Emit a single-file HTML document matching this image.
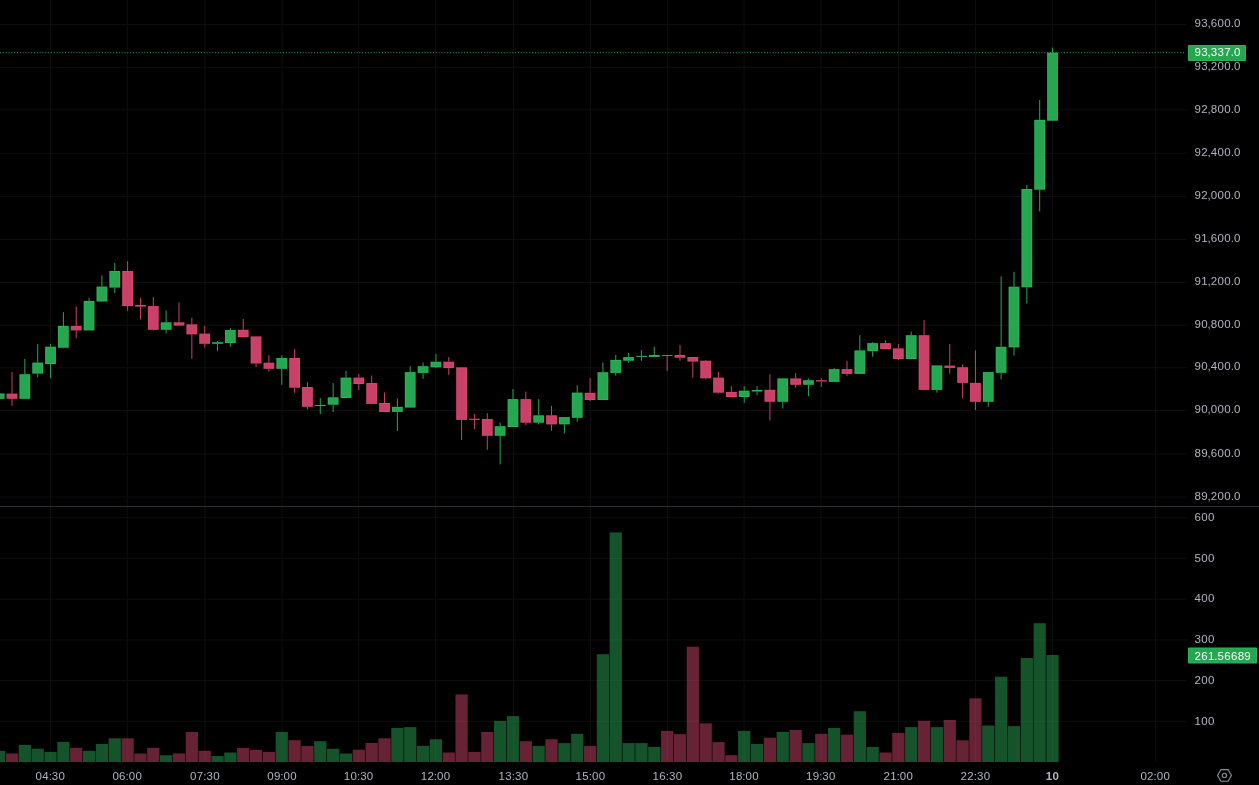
<!DOCTYPE html><html><head><meta charset="utf-8"><style>
html,body{margin:0;padding:0;background:#000;width:1259px;height:785px;overflow:hidden}
svg{display:block;will-change:transform}
text{font-family:"Liberation Sans",sans-serif;font-size:11.5px;letter-spacing:0.31px;fill:#b2b5be}
</style></head><body>
<svg width="1259" height="785" viewBox="0 0 1259 785">
<rect x="0" y="0" width="1259" height="785" fill="#000"/>
<rect x="0" y="23.98" width="1187" height="1" fill="#0e0e0e"/><rect x="0" y="66.80" width="1187" height="1" fill="#0e0e0e"/><rect x="0" y="109.34" width="1187" height="1" fill="#0e0e0e"/><rect x="0" y="152.75" width="1187" height="1" fill="#0e0e0e"/><rect x="0" y="196.00" width="1187" height="1" fill="#0e0e0e"/><rect x="0" y="238.95" width="1187" height="1" fill="#0e0e0e"/><rect x="0" y="281.98" width="1187" height="1" fill="#0e0e0e"/><rect x="0" y="324.70" width="1187" height="1" fill="#0e0e0e"/><rect x="0" y="367.23" width="1187" height="1" fill="#0e0e0e"/><rect x="0" y="410.00" width="1187" height="1" fill="#0e0e0e"/><rect x="0" y="453.49" width="1187" height="1" fill="#0e0e0e"/><rect x="0" y="496.60" width="1187" height="1" fill="#0e0e0e"/><rect x="0" y="517.17" width="1187" height="1" fill="#0e0e0e"/><rect x="0" y="557.91" width="1187" height="1" fill="#0e0e0e"/><rect x="0" y="598.64" width="1187" height="1" fill="#0e0e0e"/><rect x="0" y="639.38" width="1187" height="1" fill="#0e0e0e"/><rect x="0" y="680.11" width="1187" height="1" fill="#0e0e0e"/><rect x="0" y="720.85" width="1187" height="1" fill="#0e0e0e"/><rect x="49.90" y="0" width="1" height="506" fill="#0e0e0e"/><rect x="49.90" y="507" width="1" height="255" fill="#0e0e0e"/><rect x="126.80" y="0" width="1" height="506" fill="#0e0e0e"/><rect x="126.80" y="507" width="1" height="255" fill="#0e0e0e"/><rect x="204.50" y="0" width="1" height="506" fill="#0e0e0e"/><rect x="204.50" y="507" width="1" height="255" fill="#0e0e0e"/><rect x="281.60" y="0" width="1" height="506" fill="#0e0e0e"/><rect x="281.60" y="507" width="1" height="255" fill="#0e0e0e"/><rect x="358.20" y="0" width="1" height="506" fill="#0e0e0e"/><rect x="358.20" y="507" width="1" height="255" fill="#0e0e0e"/><rect x="435.10" y="0" width="1" height="506" fill="#0e0e0e"/><rect x="435.10" y="507" width="1" height="255" fill="#0e0e0e"/><rect x="513.00" y="0" width="1" height="506" fill="#0e0e0e"/><rect x="513.00" y="507" width="1" height="255" fill="#0e0e0e"/><rect x="590.00" y="0" width="1" height="506" fill="#0e0e0e"/><rect x="590.00" y="507" width="1" height="255" fill="#0e0e0e"/><rect x="667.00" y="0" width="1" height="506" fill="#0e0e0e"/><rect x="667.00" y="507" width="1" height="255" fill="#0e0e0e"/><rect x="743.60" y="0" width="1" height="506" fill="#0e0e0e"/><rect x="743.60" y="507" width="1" height="255" fill="#0e0e0e"/><rect x="820.40" y="0" width="1" height="506" fill="#0e0e0e"/><rect x="820.40" y="507" width="1" height="255" fill="#0e0e0e"/><rect x="897.90" y="0" width="1" height="506" fill="#0e0e0e"/><rect x="897.90" y="507" width="1" height="255" fill="#0e0e0e"/><rect x="975.00" y="0" width="1" height="506" fill="#0e0e0e"/><rect x="975.00" y="507" width="1" height="255" fill="#0e0e0e"/><rect x="1052.00" y="0" width="1" height="506" fill="#0e0e0e"/><rect x="1052.00" y="507" width="1" height="255" fill="#0e0e0e"/><rect x="1154.80" y="0" width="1" height="506" fill="#0e0e0e"/><rect x="1154.80" y="507" width="1" height="255" fill="#0e0e0e"/>
<rect x="-6.98" y="750.80" width="12.25" height="11.20" fill="rgba(42,166,84,0.5)"/><rect x="5.87" y="753.50" width="12.25" height="8.50" fill="rgba(208,68,106,0.5)"/><rect x="18.71" y="744.90" width="12.25" height="17.10" fill="rgba(42,166,84,0.5)"/><rect x="31.56" y="748.70" width="12.25" height="13.30" fill="rgba(42,166,84,0.5)"/><rect x="44.41" y="751.90" width="12.25" height="10.10" fill="rgba(42,166,84,0.5)"/><rect x="57.25" y="741.90" width="12.25" height="20.10" fill="rgba(42,166,84,0.5)"/><rect x="70.10" y="747.80" width="12.25" height="14.20" fill="rgba(208,68,106,0.5)"/><rect x="82.94" y="750.80" width="12.25" height="11.20" fill="rgba(42,166,84,0.5)"/><rect x="95.79" y="744.00" width="12.25" height="18.00" fill="rgba(42,166,84,0.5)"/><rect x="108.64" y="738.30" width="12.25" height="23.70" fill="rgba(42,166,84,0.5)"/><rect x="121.48" y="738.30" width="12.25" height="23.70" fill="rgba(208,68,106,0.5)"/><rect x="134.33" y="753.50" width="12.25" height="8.50" fill="rgba(208,68,106,0.5)"/><rect x="147.17" y="747.80" width="12.25" height="14.20" fill="rgba(208,68,106,0.5)"/><rect x="160.02" y="755.30" width="12.25" height="6.70" fill="rgba(42,166,84,0.5)"/><rect x="172.87" y="753.40" width="12.25" height="8.60" fill="rgba(208,68,106,0.5)"/><rect x="185.71" y="731.90" width="12.25" height="30.10" fill="rgba(208,68,106,0.5)"/><rect x="198.56" y="750.80" width="12.25" height="11.20" fill="rgba(208,68,106,0.5)"/><rect x="211.40" y="756.00" width="12.25" height="6.00" fill="rgba(42,166,84,0.5)"/><rect x="224.25" y="752.50" width="12.25" height="9.50" fill="rgba(42,166,84,0.5)"/><rect x="237.10" y="748.00" width="12.25" height="14.00" fill="rgba(208,68,106,0.5)"/><rect x="249.94" y="749.90" width="12.25" height="12.10" fill="rgba(208,68,106,0.5)"/><rect x="262.79" y="751.90" width="12.25" height="10.10" fill="rgba(208,68,106,0.5)"/><rect x="275.63" y="731.90" width="12.25" height="30.10" fill="rgba(42,166,84,0.5)"/><rect x="288.48" y="740.20" width="12.25" height="21.80" fill="rgba(208,68,106,0.5)"/><rect x="301.33" y="745.90" width="12.25" height="16.10" fill="rgba(208,68,106,0.5)"/><rect x="314.17" y="741.20" width="12.25" height="20.80" fill="rgba(42,166,84,0.5)"/><rect x="327.02" y="748.80" width="12.25" height="13.20" fill="rgba(42,166,84,0.5)"/><rect x="339.86" y="753.50" width="12.25" height="8.50" fill="rgba(42,166,84,0.5)"/><rect x="352.71" y="749.70" width="12.25" height="12.30" fill="rgba(208,68,106,0.5)"/><rect x="365.56" y="743.00" width="12.25" height="19.00" fill="rgba(208,68,106,0.5)"/><rect x="378.40" y="738.30" width="12.25" height="23.70" fill="rgba(208,68,106,0.5)"/><rect x="391.25" y="727.90" width="12.25" height="34.10" fill="rgba(42,166,84,0.5)"/><rect x="404.09" y="727.10" width="12.25" height="34.90" fill="rgba(42,166,84,0.5)"/><rect x="416.94" y="745.90" width="12.25" height="16.10" fill="rgba(42,166,84,0.5)"/><rect x="429.79" y="739.30" width="12.25" height="22.70" fill="rgba(42,166,84,0.5)"/><rect x="442.63" y="752.50" width="12.25" height="9.50" fill="rgba(208,68,106,0.5)"/><rect x="455.48" y="694.40" width="12.25" height="67.60" fill="rgba(208,68,106,0.5)"/><rect x="468.32" y="751.90" width="12.25" height="10.10" fill="rgba(208,68,106,0.5)"/><rect x="481.17" y="731.90" width="12.25" height="30.10" fill="rgba(208,68,106,0.5)"/><rect x="494.02" y="720.90" width="12.25" height="41.10" fill="rgba(42,166,84,0.5)"/><rect x="506.86" y="716.10" width="12.25" height="45.90" fill="rgba(42,166,84,0.5)"/><rect x="519.71" y="741.20" width="12.25" height="20.80" fill="rgba(208,68,106,0.5)"/><rect x="532.55" y="745.90" width="12.25" height="16.10" fill="rgba(42,166,84,0.5)"/><rect x="545.40" y="739.30" width="12.25" height="22.70" fill="rgba(208,68,106,0.5)"/><rect x="558.25" y="743.10" width="12.25" height="18.90" fill="rgba(42,166,84,0.5)"/><rect x="571.09" y="733.80" width="12.25" height="28.20" fill="rgba(42,166,84,0.5)"/><rect x="583.94" y="745.90" width="12.25" height="16.10" fill="rgba(208,68,106,0.5)"/><rect x="596.78" y="654.20" width="12.25" height="107.80" fill="rgba(42,166,84,0.5)"/><rect x="609.63" y="532.40" width="12.25" height="229.60" fill="rgba(42,166,84,0.5)"/><rect x="622.48" y="743.10" width="12.25" height="18.90" fill="rgba(42,166,84,0.5)"/><rect x="635.32" y="743.10" width="12.25" height="18.90" fill="rgba(42,166,84,0.5)"/><rect x="648.17" y="746.90" width="12.25" height="15.10" fill="rgba(42,166,84,0.5)"/><rect x="661.01" y="730.90" width="12.25" height="31.10" fill="rgba(208,68,106,0.5)"/><rect x="673.86" y="734.10" width="12.25" height="27.90" fill="rgba(208,68,106,0.5)"/><rect x="686.71" y="646.70" width="12.25" height="115.30" fill="rgba(208,68,106,0.5)"/><rect x="699.55" y="723.40" width="12.25" height="38.60" fill="rgba(208,68,106,0.5)"/><rect x="712.40" y="742.10" width="12.25" height="19.90" fill="rgba(208,68,106,0.5)"/><rect x="725.24" y="755.20" width="12.25" height="6.80" fill="rgba(208,68,106,0.5)"/><rect x="738.09" y="730.90" width="12.25" height="31.10" fill="rgba(42,166,84,0.5)"/><rect x="750.94" y="744.00" width="12.25" height="18.00" fill="rgba(42,166,84,0.5)"/><rect x="763.78" y="737.70" width="12.25" height="24.30" fill="rgba(208,68,106,0.5)"/><rect x="776.63" y="731.90" width="12.25" height="30.10" fill="rgba(42,166,84,0.5)"/><rect x="789.47" y="730.00" width="12.25" height="32.00" fill="rgba(208,68,106,0.5)"/><rect x="802.32" y="743.10" width="12.25" height="18.90" fill="rgba(42,166,84,0.5)"/><rect x="815.17" y="733.80" width="12.25" height="28.20" fill="rgba(208,68,106,0.5)"/><rect x="828.01" y="727.90" width="12.25" height="34.10" fill="rgba(42,166,84,0.5)"/><rect x="840.86" y="734.70" width="12.25" height="27.30" fill="rgba(208,68,106,0.5)"/><rect x="853.70" y="711.20" width="12.25" height="50.80" fill="rgba(42,166,84,0.5)"/><rect x="866.55" y="746.90" width="12.25" height="15.10" fill="rgba(42,166,84,0.5)"/><rect x="879.40" y="752.50" width="12.25" height="9.50" fill="rgba(208,68,106,0.5)"/><rect x="892.24" y="733.00" width="12.25" height="29.00" fill="rgba(208,68,106,0.5)"/><rect x="905.09" y="727.10" width="12.25" height="34.90" fill="rgba(42,166,84,0.5)"/><rect x="917.93" y="720.80" width="12.25" height="41.20" fill="rgba(208,68,106,0.5)"/><rect x="930.78" y="727.10" width="12.25" height="34.90" fill="rgba(42,166,84,0.5)"/><rect x="943.63" y="720.00" width="12.25" height="42.00" fill="rgba(208,68,106,0.5)"/><rect x="956.47" y="740.30" width="12.25" height="21.70" fill="rgba(208,68,106,0.5)"/><rect x="969.32" y="698.30" width="12.25" height="63.70" fill="rgba(208,68,106,0.5)"/><rect x="982.16" y="725.50" width="12.25" height="36.50" fill="rgba(42,166,84,0.5)"/><rect x="995.01" y="676.70" width="12.25" height="85.30" fill="rgba(42,166,84,0.5)"/><rect x="1007.86" y="726.10" width="12.25" height="35.90" fill="rgba(42,166,84,0.5)"/><rect x="1020.70" y="658.00" width="12.25" height="104.00" fill="rgba(42,166,84,0.5)"/><rect x="1033.55" y="623.20" width="12.25" height="138.80" fill="rgba(42,166,84,0.5)"/><rect x="1046.39" y="655.00" width="12.25" height="107.00" fill="rgba(42,166,84,0.5)"/>
<line x1="0" y1="52.7" x2="1186" y2="52.7" stroke="#26a650" stroke-width="1" stroke-dasharray="1 1.83"/>
<rect x="-6.26" y="393.40" width="10.80" height="5.50" fill="#2ab457"/><rect x="-5.26" y="394.40" width="8.80" height="3.50" fill="#26a650"/><rect x="11.49" y="372.10" width="1" height="21.50" fill="#c94068"/><rect x="11.49" y="398.80" width="1" height="7.00" fill="#c94068"/><rect x="6.59" y="393.60" width="10.80" height="5.20" fill="#d8466f"/><rect x="7.59" y="394.60" width="8.80" height="3.20" fill="#c94068"/><rect x="24.34" y="358.90" width="1" height="15.30" fill="#26a650"/><rect x="19.44" y="374.20" width="10.80" height="24.60" fill="#2ab457"/><rect x="20.44" y="375.20" width="8.80" height="22.60" fill="#26a650"/><rect x="37.18" y="344.10" width="1" height="18.50" fill="#26a650"/><rect x="37.18" y="373.60" width="1" height="3.70" fill="#26a650"/><rect x="32.28" y="362.60" width="10.80" height="11.00" fill="#2ab457"/><rect x="33.28" y="363.60" width="8.80" height="9.00" fill="#26a650"/><rect x="50.03" y="344.10" width="1" height="2.60" fill="#26a650"/><rect x="50.03" y="364.00" width="1" height="14.30" fill="#26a650"/><rect x="45.13" y="346.70" width="10.80" height="17.30" fill="#2ab457"/><rect x="46.13" y="347.70" width="8.80" height="15.30" fill="#26a650"/><rect x="62.88" y="312.10" width="1" height="13.80" fill="#26a650"/><rect x="62.88" y="347.70" width="1" height="0.60" fill="#26a650"/><rect x="57.98" y="325.90" width="10.80" height="21.80" fill="#2ab457"/><rect x="58.98" y="326.90" width="8.80" height="19.80" fill="#26a650"/><rect x="75.72" y="306.40" width="1" height="19.50" fill="#c94068"/><rect x="75.72" y="330.40" width="1" height="7.70" fill="#c94068"/><rect x="70.82" y="325.90" width="10.80" height="4.50" fill="#d8466f"/><rect x="71.82" y="326.90" width="8.80" height="2.50" fill="#c94068"/><rect x="88.57" y="297.80" width="1" height="3.10" fill="#26a650"/><rect x="83.67" y="300.90" width="10.80" height="29.50" fill="#2ab457"/><rect x="84.67" y="301.90" width="8.80" height="27.50" fill="#26a650"/><rect x="101.41" y="275.40" width="1" height="11.20" fill="#26a650"/><rect x="96.51" y="286.60" width="10.80" height="14.90" fill="#2ab457"/><rect x="97.51" y="287.60" width="8.80" height="12.90" fill="#26a650"/><rect x="114.26" y="263.00" width="1" height="8.00" fill="#26a650"/><rect x="114.26" y="287.60" width="1" height="5.40" fill="#26a650"/><rect x="109.36" y="271.00" width="10.80" height="16.60" fill="#2ab457"/><rect x="110.36" y="272.00" width="8.80" height="14.60" fill="#26a650"/><rect x="127.11" y="261.20" width="1" height="9.80" fill="#c94068"/><rect x="127.11" y="306.10" width="1" height="4.80" fill="#c94068"/><rect x="122.20" y="271.00" width="10.80" height="35.10" fill="#d8466f"/><rect x="123.20" y="272.00" width="8.80" height="33.10" fill="#c94068"/><rect x="139.95" y="298.00" width="1" height="6.90" fill="#c94068"/><rect x="139.95" y="306.60" width="1" height="12.90" fill="#c94068"/><rect x="135.05" y="304.90" width="10.80" height="1.70" fill="#d8466f"/><rect x="152.80" y="297.00" width="1" height="9.10" fill="#c94068"/><rect x="152.80" y="329.80" width="1" height="0.80" fill="#c94068"/><rect x="147.90" y="306.10" width="10.80" height="23.70" fill="#d8466f"/><rect x="148.90" y="307.10" width="8.80" height="21.70" fill="#c94068"/><rect x="165.64" y="310.20" width="1" height="12.10" fill="#26a650"/><rect x="165.64" y="329.80" width="1" height="3.60" fill="#26a650"/><rect x="160.74" y="322.30" width="10.80" height="7.50" fill="#2ab457"/><rect x="161.74" y="323.30" width="8.80" height="5.50" fill="#26a650"/><rect x="178.49" y="302.40" width="1" height="19.90" fill="#c94068"/><rect x="173.59" y="322.30" width="10.80" height="3.30" fill="#d8466f"/><rect x="174.59" y="323.30" width="8.80" height="1.30" fill="#c94068"/><rect x="191.34" y="317.70" width="1" height="6.60" fill="#c94068"/><rect x="191.34" y="334.40" width="1" height="24.40" fill="#c94068"/><rect x="186.44" y="324.30" width="10.80" height="10.10" fill="#d8466f"/><rect x="187.44" y="325.30" width="8.80" height="8.10" fill="#c94068"/><rect x="204.18" y="325.60" width="1" height="8.00" fill="#c94068"/><rect x="204.18" y="343.80" width="1" height="3.90" fill="#c94068"/><rect x="199.28" y="333.60" width="10.80" height="10.20" fill="#d8466f"/><rect x="200.28" y="334.60" width="8.80" height="8.20" fill="#c94068"/><rect x="217.03" y="341.00" width="1" height="1.20" fill="#26a650"/><rect x="217.03" y="343.80" width="1" height="7.50" fill="#26a650"/><rect x="212.13" y="342.20" width="10.80" height="1.60" fill="#2ab457"/><rect x="229.87" y="328.10" width="1" height="2.00" fill="#26a650"/><rect x="229.87" y="343.00" width="1" height="3.70" fill="#26a650"/><rect x="224.97" y="330.10" width="10.80" height="12.90" fill="#2ab457"/><rect x="225.97" y="331.10" width="8.80" height="10.90" fill="#26a650"/><rect x="242.72" y="319.00" width="1" height="10.80" fill="#c94068"/><rect x="237.82" y="329.80" width="10.80" height="7.40" fill="#d8466f"/><rect x="238.82" y="330.80" width="8.80" height="5.40" fill="#c94068"/><rect x="255.56" y="363.50" width="1" height="3.50" fill="#c94068"/><rect x="250.66" y="336.40" width="10.80" height="27.10" fill="#d8466f"/><rect x="251.66" y="337.40" width="8.80" height="25.10" fill="#c94068"/><rect x="268.41" y="355.20" width="1" height="7.50" fill="#c94068"/><rect x="268.41" y="368.80" width="1" height="3.00" fill="#c94068"/><rect x="263.51" y="362.70" width="10.80" height="6.10" fill="#d8466f"/><rect x="264.51" y="363.70" width="8.80" height="4.10" fill="#c94068"/><rect x="281.26" y="355.20" width="1" height="2.80" fill="#26a650"/><rect x="281.26" y="368.80" width="1" height="16.10" fill="#26a650"/><rect x="276.36" y="358.00" width="10.80" height="10.80" fill="#2ab457"/><rect x="277.36" y="359.00" width="8.80" height="8.80" fill="#26a650"/><rect x="294.10" y="349.30" width="1" height="8.70" fill="#c94068"/><rect x="294.10" y="387.70" width="1" height="5.10" fill="#c94068"/><rect x="289.20" y="358.00" width="10.80" height="29.70" fill="#d8466f"/><rect x="290.20" y="359.00" width="8.80" height="27.70" fill="#c94068"/><rect x="306.95" y="382.10" width="1" height="4.90" fill="#c94068"/><rect x="306.95" y="406.80" width="1" height="2.80" fill="#c94068"/><rect x="302.05" y="387.00" width="10.80" height="19.80" fill="#d8466f"/><rect x="303.05" y="388.00" width="8.80" height="17.80" fill="#c94068"/><rect x="319.79" y="398.20" width="1" height="6.80" fill="#26a650"/><rect x="319.79" y="406.00" width="1" height="8.10" fill="#26a650"/><rect x="314.89" y="405.00" width="10.80" height="1.00" fill="#2ab457"/><rect x="332.64" y="383.00" width="1" height="14.30" fill="#26a650"/><rect x="332.64" y="404.70" width="1" height="7.30" fill="#26a650"/><rect x="327.74" y="397.30" width="10.80" height="7.40" fill="#2ab457"/><rect x="328.74" y="398.30" width="8.80" height="5.40" fill="#26a650"/><rect x="345.49" y="370.90" width="1" height="6.70" fill="#26a650"/><rect x="340.59" y="377.60" width="10.80" height="20.40" fill="#2ab457"/><rect x="341.59" y="378.60" width="8.80" height="18.40" fill="#26a650"/><rect x="358.33" y="373.90" width="1" height="3.70" fill="#c94068"/><rect x="358.33" y="384.00" width="1" height="6.00" fill="#c94068"/><rect x="353.43" y="377.60" width="10.80" height="6.40" fill="#d8466f"/><rect x="354.43" y="378.60" width="8.80" height="4.40" fill="#c94068"/><rect x="371.18" y="375.50" width="1" height="7.50" fill="#c94068"/><rect x="366.28" y="383.00" width="10.80" height="20.90" fill="#d8466f"/><rect x="367.28" y="384.00" width="8.80" height="18.90" fill="#c94068"/><rect x="384.02" y="392.40" width="1" height="10.60" fill="#c94068"/><rect x="379.12" y="403.00" width="10.80" height="9.00" fill="#d8466f"/><rect x="380.12" y="404.00" width="8.80" height="7.00" fill="#c94068"/><rect x="396.87" y="398.40" width="1" height="8.40" fill="#26a650"/><rect x="396.87" y="411.90" width="1" height="19.10" fill="#26a650"/><rect x="391.97" y="406.80" width="10.80" height="5.10" fill="#2ab457"/><rect x="392.97" y="407.80" width="8.80" height="3.10" fill="#26a650"/><rect x="409.72" y="366.20" width="1" height="5.90" fill="#26a650"/><rect x="404.82" y="372.10" width="10.80" height="35.50" fill="#2ab457"/><rect x="405.82" y="373.10" width="8.80" height="33.50" fill="#26a650"/><rect x="422.56" y="362.50" width="1" height="3.70" fill="#26a650"/><rect x="422.56" y="372.90" width="1" height="5.90" fill="#26a650"/><rect x="417.66" y="366.20" width="10.80" height="6.70" fill="#2ab457"/><rect x="418.66" y="367.20" width="8.80" height="4.70" fill="#26a650"/><rect x="435.41" y="354.10" width="1" height="7.60" fill="#26a650"/><rect x="435.41" y="367.30" width="1" height="0.80" fill="#26a650"/><rect x="430.51" y="361.70" width="10.80" height="5.60" fill="#2ab457"/><rect x="431.51" y="362.70" width="8.80" height="3.60" fill="#26a650"/><rect x="448.25" y="357.00" width="1" height="4.70" fill="#c94068"/><rect x="448.25" y="368.10" width="1" height="6.80" fill="#c94068"/><rect x="443.36" y="361.70" width="10.80" height="6.40" fill="#d8466f"/><rect x="444.36" y="362.70" width="8.80" height="4.40" fill="#c94068"/><rect x="461.10" y="419.90" width="1" height="20.10" fill="#c94068"/><rect x="456.20" y="367.30" width="10.80" height="52.60" fill="#d8466f"/><rect x="457.20" y="368.30" width="8.80" height="50.60" fill="#c94068"/><rect x="473.95" y="414.00" width="1" height="4.70" fill="#c94068"/><rect x="473.95" y="419.90" width="1" height="9.00" fill="#c94068"/><rect x="469.05" y="418.70" width="10.80" height="1.20" fill="#d8466f"/><rect x="486.79" y="413.20" width="1" height="5.80" fill="#c94068"/><rect x="486.79" y="435.80" width="1" height="14.00" fill="#c94068"/><rect x="481.89" y="419.00" width="10.80" height="16.80" fill="#d8466f"/><rect x="482.89" y="420.00" width="8.80" height="14.80" fill="#c94068"/><rect x="499.64" y="422.60" width="1" height="3.60" fill="#26a650"/><rect x="499.64" y="435.80" width="1" height="28.60" fill="#26a650"/><rect x="494.74" y="426.20" width="10.80" height="9.60" fill="#2ab457"/><rect x="495.74" y="427.20" width="8.80" height="7.60" fill="#26a650"/><rect x="512.49" y="389.00" width="1" height="10.10" fill="#26a650"/><rect x="507.59" y="399.10" width="10.80" height="27.90" fill="#2ab457"/><rect x="508.59" y="400.10" width="8.80" height="25.90" fill="#26a650"/><rect x="525.33" y="391.60" width="1" height="7.50" fill="#c94068"/><rect x="525.33" y="422.70" width="1" height="2.40" fill="#c94068"/><rect x="520.43" y="399.10" width="10.80" height="23.60" fill="#d8466f"/><rect x="521.43" y="400.10" width="8.80" height="21.60" fill="#c94068"/><rect x="538.18" y="399.10" width="1" height="16.20" fill="#26a650"/><rect x="538.18" y="422.70" width="1" height="1.80" fill="#26a650"/><rect x="533.28" y="415.30" width="10.80" height="7.40" fill="#2ab457"/><rect x="534.28" y="416.30" width="8.80" height="5.40" fill="#26a650"/><rect x="551.02" y="405.90" width="1" height="9.40" fill="#c94068"/><rect x="551.02" y="424.40" width="1" height="6.40" fill="#c94068"/><rect x="546.12" y="415.30" width="10.80" height="9.10" fill="#d8466f"/><rect x="547.12" y="416.30" width="8.80" height="7.10" fill="#c94068"/><rect x="563.87" y="424.40" width="1" height="9.20" fill="#26a650"/><rect x="558.97" y="417.10" width="10.80" height="7.30" fill="#2ab457"/><rect x="559.97" y="418.10" width="8.80" height="5.30" fill="#26a650"/><rect x="576.72" y="385.10" width="1" height="7.50" fill="#26a650"/><rect x="576.72" y="417.80" width="1" height="3.80" fill="#26a650"/><rect x="571.82" y="392.60" width="10.80" height="25.20" fill="#2ab457"/><rect x="572.82" y="393.60" width="8.80" height="23.20" fill="#26a650"/><rect x="589.56" y="378.10" width="1" height="14.70" fill="#c94068"/><rect x="589.56" y="400.00" width="1" height="1.00" fill="#c94068"/><rect x="584.66" y="392.80" width="10.80" height="7.20" fill="#d8466f"/><rect x="585.66" y="393.80" width="8.80" height="5.20" fill="#c94068"/><rect x="602.41" y="362.40" width="1" height="9.80" fill="#26a650"/><rect x="597.51" y="372.20" width="10.80" height="27.80" fill="#2ab457"/><rect x="598.51" y="373.20" width="8.80" height="25.80" fill="#26a650"/><rect x="615.25" y="355.00" width="1" height="4.90" fill="#26a650"/><rect x="615.25" y="372.90" width="1" height="2.80" fill="#26a650"/><rect x="610.35" y="359.90" width="10.80" height="13.00" fill="#2ab457"/><rect x="611.35" y="360.90" width="8.80" height="11.00" fill="#26a650"/><rect x="628.10" y="353.00" width="1" height="4.10" fill="#26a650"/><rect x="628.10" y="360.70" width="1" height="2.00" fill="#26a650"/><rect x="623.20" y="357.10" width="10.80" height="3.60" fill="#2ab457"/><rect x="624.20" y="358.10" width="8.80" height="1.60" fill="#26a650"/><rect x="640.94" y="350.10" width="1" height="5.80" fill="#26a650"/><rect x="640.94" y="356.90" width="1" height="3.80" fill="#26a650"/><rect x="636.04" y="355.90" width="10.80" height="1.00" fill="#2ab457"/><rect x="653.79" y="346.70" width="1" height="8.30" fill="#26a650"/><rect x="648.89" y="355.00" width="10.80" height="1.90" fill="#2ab457"/><rect x="666.64" y="355.90" width="1" height="15.00" fill="#c94068"/><rect x="661.74" y="355.00" width="10.80" height="1.00" fill="#d8466f"/><rect x="679.48" y="344.90" width="1" height="10.10" fill="#c94068"/><rect x="679.48" y="357.70" width="1" height="3.00" fill="#c94068"/><rect x="674.58" y="355.00" width="10.80" height="2.70" fill="#d8466f"/><rect x="675.58" y="356.00" width="8.80" height="0.70" fill="#c94068"/><rect x="692.33" y="361.60" width="1" height="16.10" fill="#c94068"/><rect x="687.43" y="357.00" width="10.80" height="4.60" fill="#d8466f"/><rect x="688.43" y="358.00" width="8.80" height="2.60" fill="#c94068"/><rect x="705.17" y="360.00" width="1" height="0.70" fill="#c94068"/><rect x="705.17" y="378.30" width="1" height="1.20" fill="#c94068"/><rect x="700.27" y="360.70" width="10.80" height="17.60" fill="#d8466f"/><rect x="701.27" y="361.70" width="8.80" height="15.60" fill="#c94068"/><rect x="718.02" y="372.10" width="1" height="5.50" fill="#c94068"/><rect x="718.02" y="392.70" width="1" height="1.00" fill="#c94068"/><rect x="713.12" y="377.60" width="10.80" height="15.10" fill="#d8466f"/><rect x="714.12" y="378.60" width="8.80" height="13.10" fill="#c94068"/><rect x="730.87" y="386.10" width="1" height="5.80" fill="#c94068"/><rect x="725.97" y="391.90" width="10.80" height="5.10" fill="#d8466f"/><rect x="726.97" y="392.90" width="8.80" height="3.10" fill="#c94068"/><rect x="743.71" y="386.10" width="1" height="4.60" fill="#26a650"/><rect x="743.71" y="397.00" width="1" height="5.80" fill="#26a650"/><rect x="738.81" y="390.70" width="10.80" height="6.30" fill="#2ab457"/><rect x="739.81" y="391.70" width="8.80" height="4.30" fill="#26a650"/><rect x="756.56" y="386.10" width="1" height="3.90" fill="#26a650"/><rect x="756.56" y="391.50" width="1" height="3.60" fill="#26a650"/><rect x="751.66" y="390.00" width="10.80" height="1.50" fill="#2ab457"/><rect x="769.40" y="374.20" width="1" height="15.60" fill="#c94068"/><rect x="769.40" y="401.80" width="1" height="18.70" fill="#c94068"/><rect x="764.50" y="389.80" width="10.80" height="12.00" fill="#d8466f"/><rect x="765.50" y="390.80" width="8.80" height="10.00" fill="#c94068"/><rect x="782.25" y="401.80" width="1" height="6.70" fill="#26a650"/><rect x="777.35" y="378.40" width="10.80" height="23.40" fill="#2ab457"/><rect x="778.35" y="379.40" width="8.80" height="21.40" fill="#26a650"/><rect x="795.10" y="373.10" width="1" height="5.30" fill="#c94068"/><rect x="795.10" y="384.80" width="1" height="3.10" fill="#c94068"/><rect x="790.20" y="378.40" width="10.80" height="6.40" fill="#d8466f"/><rect x="791.20" y="379.40" width="8.80" height="4.40" fill="#c94068"/><rect x="807.94" y="378.40" width="1" height="1.80" fill="#26a650"/><rect x="807.94" y="384.80" width="1" height="11.40" fill="#26a650"/><rect x="803.04" y="380.20" width="10.80" height="4.60" fill="#2ab457"/><rect x="804.04" y="381.20" width="8.80" height="2.60" fill="#26a650"/><rect x="820.79" y="378.40" width="1" height="1.80" fill="#c94068"/><rect x="820.79" y="381.50" width="1" height="5.40" fill="#c94068"/><rect x="815.89" y="380.20" width="10.80" height="1.30" fill="#d8466f"/><rect x="833.63" y="368.10" width="1" height="1.00" fill="#26a650"/><rect x="828.74" y="369.10" width="10.80" height="12.80" fill="#2ab457"/><rect x="829.74" y="370.10" width="8.80" height="10.80" fill="#26a650"/><rect x="846.48" y="360.80" width="1" height="8.30" fill="#c94068"/><rect x="846.48" y="373.90" width="1" height="2.00" fill="#c94068"/><rect x="841.58" y="369.10" width="10.80" height="4.80" fill="#d8466f"/><rect x="842.58" y="370.10" width="8.80" height="2.80" fill="#c94068"/><rect x="859.33" y="335.10" width="1" height="15.30" fill="#26a650"/><rect x="854.43" y="350.40" width="10.80" height="23.50" fill="#2ab457"/><rect x="855.43" y="351.40" width="8.80" height="21.50" fill="#26a650"/><rect x="872.17" y="342.10" width="1" height="1.00" fill="#26a650"/><rect x="872.17" y="351.20" width="1" height="5.60" fill="#26a650"/><rect x="867.27" y="343.10" width="10.80" height="8.10" fill="#2ab457"/><rect x="868.27" y="344.10" width="8.80" height="6.10" fill="#26a650"/><rect x="885.02" y="340.10" width="1" height="3.00" fill="#c94068"/><rect x="880.12" y="343.10" width="10.80" height="6.00" fill="#d8466f"/><rect x="881.12" y="344.10" width="8.80" height="4.00" fill="#c94068"/><rect x="897.87" y="344.00" width="1" height="4.40" fill="#c94068"/><rect x="897.87" y="359.00" width="1" height="0.80" fill="#c94068"/><rect x="892.97" y="348.40" width="10.80" height="10.60" fill="#d8466f"/><rect x="893.97" y="349.40" width="8.80" height="8.60" fill="#c94068"/><rect x="910.71" y="331.70" width="1" height="3.50" fill="#26a650"/><rect x="905.81" y="335.20" width="10.80" height="23.80" fill="#2ab457"/><rect x="906.81" y="336.20" width="8.80" height="21.80" fill="#26a650"/><rect x="923.56" y="320.10" width="1" height="15.10" fill="#c94068"/><rect x="918.66" y="335.20" width="10.80" height="54.70" fill="#d8466f"/><rect x="919.66" y="336.20" width="8.80" height="52.70" fill="#c94068"/><rect x="936.40" y="389.90" width="1" height="2.80" fill="#26a650"/><rect x="931.50" y="365.40" width="10.80" height="24.50" fill="#2ab457"/><rect x="932.50" y="366.40" width="8.80" height="22.50" fill="#26a650"/><rect x="949.25" y="343.90" width="1" height="21.70" fill="#c94068"/><rect x="949.25" y="367.90" width="1" height="5.90" fill="#c94068"/><rect x="944.35" y="365.60" width="10.80" height="2.30" fill="#d8466f"/><rect x="945.35" y="366.60" width="8.80" height="0.30" fill="#c94068"/><rect x="962.10" y="364.40" width="1" height="2.80" fill="#c94068"/><rect x="962.10" y="382.90" width="1" height="15.40" fill="#c94068"/><rect x="957.20" y="367.20" width="10.80" height="15.70" fill="#d8466f"/><rect x="958.20" y="368.20" width="8.80" height="13.70" fill="#c94068"/><rect x="974.94" y="350.40" width="1" height="32.50" fill="#c94068"/><rect x="974.94" y="401.80" width="1" height="8.40" fill="#c94068"/><rect x="970.04" y="382.90" width="10.80" height="18.90" fill="#d8466f"/><rect x="971.04" y="383.90" width="8.80" height="16.90" fill="#c94068"/><rect x="987.79" y="401.80" width="1" height="4.90" fill="#26a650"/><rect x="982.89" y="372.10" width="10.80" height="29.70" fill="#2ab457"/><rect x="983.89" y="373.10" width="8.80" height="27.70" fill="#26a650"/><rect x="1000.63" y="276.30" width="1" height="70.50" fill="#26a650"/><rect x="1000.63" y="372.80" width="1" height="6.60" fill="#26a650"/><rect x="995.73" y="346.80" width="10.80" height="26.00" fill="#2ab457"/><rect x="996.73" y="347.80" width="8.80" height="24.00" fill="#26a650"/><rect x="1013.48" y="271.70" width="1" height="15.00" fill="#26a650"/><rect x="1013.48" y="347.40" width="1" height="8.10" fill="#26a650"/><rect x="1008.58" y="286.70" width="10.80" height="60.70" fill="#2ab457"/><rect x="1009.58" y="287.70" width="8.80" height="58.70" fill="#26a650"/><rect x="1026.33" y="185.00" width="1" height="4.00" fill="#26a650"/><rect x="1026.33" y="287.30" width="1" height="16.10" fill="#26a650"/><rect x="1021.43" y="189.00" width="10.80" height="98.30" fill="#2ab457"/><rect x="1022.43" y="190.00" width="8.80" height="96.30" fill="#26a650"/><rect x="1039.17" y="100.10" width="1" height="19.70" fill="#26a650"/><rect x="1039.17" y="189.70" width="1" height="21.80" fill="#26a650"/><rect x="1034.27" y="119.80" width="10.80" height="69.90" fill="#2ab457"/><rect x="1035.27" y="120.80" width="8.80" height="67.90" fill="#26a650"/><rect x="1052.02" y="47.60" width="1" height="5.00" fill="#26a650"/><rect x="1047.12" y="52.60" width="10.80" height="68.10" fill="#2ab457"/><rect x="1048.12" y="53.60" width="8.80" height="66.10" fill="#26a650"/>
<rect x="0" y="506" width="1259" height="1" fill="#2a2e39"/>
<text x="1194.5" y="27.18">93<tspan dx="-0.3">,</tspan><tspan dx="-0.3">6</tspan>00<tspan dx="-0.3">.</tspan><tspan dx="-0.3">0</tspan></text><text x="1194.5" y="70.00">93<tspan dx="-0.3">,</tspan><tspan dx="-0.3">2</tspan>00<tspan dx="-0.3">.</tspan><tspan dx="-0.3">0</tspan></text><text x="1194.5" y="112.54">92<tspan dx="-0.3">,</tspan><tspan dx="-0.3">8</tspan>00<tspan dx="-0.3">.</tspan><tspan dx="-0.3">0</tspan></text><text x="1194.5" y="155.95">92<tspan dx="-0.3">,</tspan><tspan dx="-0.3">4</tspan>00<tspan dx="-0.3">.</tspan><tspan dx="-0.3">0</tspan></text><text x="1194.5" y="199.20">92<tspan dx="-0.3">,</tspan><tspan dx="-0.3">0</tspan>00<tspan dx="-0.3">.</tspan><tspan dx="-0.3">0</tspan></text><text x="1194.5" y="242.15">91<tspan dx="-0.3">,</tspan><tspan dx="-0.3">6</tspan>00<tspan dx="-0.3">.</tspan><tspan dx="-0.3">0</tspan></text><text x="1194.5" y="285.18">91<tspan dx="-0.3">,</tspan><tspan dx="-0.3">2</tspan>00<tspan dx="-0.3">.</tspan><tspan dx="-0.3">0</tspan></text><text x="1194.5" y="327.90">90<tspan dx="-0.3">,</tspan><tspan dx="-0.3">8</tspan>00<tspan dx="-0.3">.</tspan><tspan dx="-0.3">0</tspan></text><text x="1194.5" y="370.43">90<tspan dx="-0.3">,</tspan><tspan dx="-0.3">4</tspan>00<tspan dx="-0.3">.</tspan><tspan dx="-0.3">0</tspan></text><text x="1194.5" y="413.20">90<tspan dx="-0.3">,</tspan><tspan dx="-0.3">0</tspan>00<tspan dx="-0.3">.</tspan><tspan dx="-0.3">0</tspan></text><text x="1194.5" y="456.69">89<tspan dx="-0.3">,</tspan><tspan dx="-0.3">6</tspan>00<tspan dx="-0.3">.</tspan><tspan dx="-0.3">0</tspan></text><text x="1194.5" y="499.80">89<tspan dx="-0.3">,</tspan><tspan dx="-0.3">2</tspan>00<tspan dx="-0.3">.</tspan><tspan dx="-0.3">0</tspan></text><text x="1194.5" y="520.97">600</text><text x="1194.5" y="561.71">500</text><text x="1194.5" y="602.44">400</text><text x="1194.5" y="643.18">300</text><text x="1194.5" y="683.91">200</text><text x="1194.5" y="724.65">100</text>
<rect x="1188" y="45" width="58" height="16" rx="1" fill="#2ab457"/>
<rect x="1189" y="46" width="56" height="14" fill="#26a650"/>
<text x="1194.5" y="56.4" style="fill:#fff">93<tspan dx="-0.3">,</tspan><tspan dx="-0.3">3</tspan>37<tspan dx="-0.3">.</tspan><tspan dx="-0.3">0</tspan></text>
<rect x="1188" y="647.5" width="69" height="16" rx="1" fill="#2ab457"/>
<rect x="1189" y="648.5" width="67" height="14" fill="#26a650"/>
<text x="1194.5" y="660.2" style="fill:#fff">261<tspan dx="-0.3">.</tspan><tspan dx="-0.3">5</tspan>6689</text>
<text x="50.40" y="779.7" text-anchor="middle">04<tspan dx="-0.3">:</tspan><tspan dx="-0.3">3</tspan>0</text><text x="127.30" y="779.7" text-anchor="middle">06<tspan dx="-0.3">:</tspan><tspan dx="-0.3">0</tspan>0</text><text x="205.00" y="779.7" text-anchor="middle">07<tspan dx="-0.3">:</tspan><tspan dx="-0.3">3</tspan>0</text><text x="282.10" y="779.7" text-anchor="middle">09<tspan dx="-0.3">:</tspan><tspan dx="-0.3">0</tspan>0</text><text x="358.70" y="779.7" text-anchor="middle">10<tspan dx="-0.3">:</tspan><tspan dx="-0.3">3</tspan>0</text><text x="435.60" y="779.7" text-anchor="middle">12<tspan dx="-0.3">:</tspan><tspan dx="-0.3">0</tspan>0</text><text x="513.50" y="779.7" text-anchor="middle">13<tspan dx="-0.3">:</tspan><tspan dx="-0.3">3</tspan>0</text><text x="590.50" y="779.7" text-anchor="middle">15<tspan dx="-0.3">:</tspan><tspan dx="-0.3">0</tspan>0</text><text x="667.50" y="779.7" text-anchor="middle">16<tspan dx="-0.3">:</tspan><tspan dx="-0.3">3</tspan>0</text><text x="744.10" y="779.7" text-anchor="middle">18<tspan dx="-0.3">:</tspan><tspan dx="-0.3">0</tspan>0</text><text x="820.90" y="779.7" text-anchor="middle">19<tspan dx="-0.3">:</tspan><tspan dx="-0.3">3</tspan>0</text><text x="898.40" y="779.7" text-anchor="middle">21<tspan dx="-0.3">:</tspan><tspan dx="-0.3">0</tspan>0</text><text x="975.50" y="779.7" text-anchor="middle">22<tspan dx="-0.3">:</tspan><tspan dx="-0.3">3</tspan>0</text><text x="1052.50" y="779.7" text-anchor="middle" font-weight="bold">10</text><text x="1155.30" y="779.7" text-anchor="middle">02<tspan dx="-0.3">:</tspan><tspan dx="-0.3">0</tspan>0</text>
<polygon points="1217.6,775.4 1220.9,769.6 1228.1,769.6 1231.4,775.4 1228.1,781.2 1220.9,781.2" fill="none" stroke="#8f9199" stroke-width="1.1"/>
<circle cx="1224.4" cy="775.4" r="2.1" fill="none" stroke="#8f9199" stroke-width="1.1"/>
</svg></body></html>
